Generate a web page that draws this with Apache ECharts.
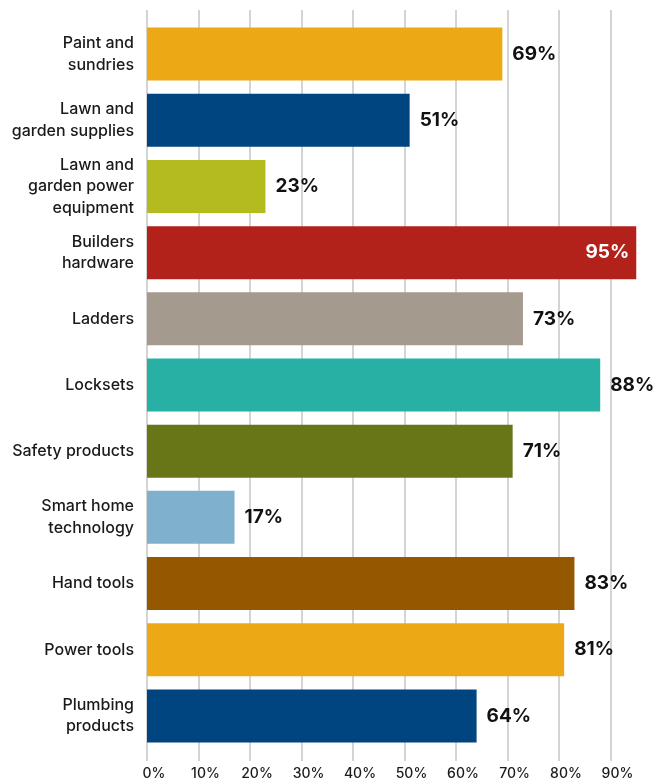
<!DOCTYPE html>
<html>
<head>
<meta charset="utf-8">
<style>
  html, body { margin: 0; padding: 0; background: #fff; }
  #chart { width: 657px; height: 784px; }
</style>
<script src="https://cdn.jsdelivr.net/npm/echarts@6/dist/echarts.min.js"></script>
</head>
<body>
<div id="chart"></div>
<script>
// categories, top to bottom
const categories = [
  'Paint and\nsundries',
  'Lawn and\ngarden supplies',
  'Lawn and\ngarden power\nequipment',
  'Builders\nhardware',
  'Ladders',
  'Locksets',
  'Safety products',
  'Smart home\ntechnology',
  'Hand tools',
  'Power tools',
  'Plumbing\nproducts'
]
const values = [69, 51, 23, 95, 73, 88, 71, 17, 83, 81, 64]
const barColors = [
  '#eda815', '#00457f', '#b3bb1f', '#b3221a', '#a59a8e', '#27b0a3',
  '#687618', '#7fb1cf', '#955700', '#eda815', '#00457f'
]
// bars whose label sits inside the bar
const insideLabels = [3]

const chart = echarts.init(document.getElementById('chart'))

const fontFamily = 'Inter, "Noto Sans", sans-serif'

const option = {
  animation: false,
  grid: [
    // grid for the x axis and vertical grid lines
    { left: 147, top: 10, bottom: 23, width: 515, outerBoundsMode: 'none', containLabel: false },
    // grid for the bars
    { left: 147, top: 21, bottom: 35, width: 515, outerBoundsMode: 'none', containLabel: false }
  ],
  xAxis: [
    {
      gridIndex: 0,
      type: 'value',
      min: 0,
      max: 100,
      interval: 10,
      axisLine: { show: false },
      axisTick: { show: false },
      splitLine: { show: true, lineStyle: { color: '#d4d4d4', width: 2 } },
      axisLabel: {
        color: '#1a1a1a',
        fontSize: 14,
        fontWeight: 500,
        fontFamily: fontFamily,
        margin: 6,
        padding: [0, 0, 0, 14],
        showMaxLabel: false,
        formatter: (v) => v + '%'
      }
    },
    {
      gridIndex: 1,
      type: 'value',
      min: 0,
      max: 100,
      show: false
    }
  ],
  yAxis: [
    {
      gridIndex: 0,
      type: 'value',
      show: false
    },
    {
      gridIndex: 1,
      type: 'category',
      inverse: true,
      data: categories,
      axisLine: { show: false },
      axisTick: { show: false },
      splitLine: { show: false },
      axisLabel: {
        color: '#1a1a1a',
        fontSize: 16,
        fontWeight: 500,
        lineHeight: 21.5,
        fontFamily: fontFamily,
        align: 'right',
        margin: 13
      }
    }
  ],
  series: [
    {
      type: 'bar',
      xAxisIndex: 1,
      yAxisIndex: 1,
      barWidth: 53,
      data: values.map((v, i) => {
        const inside = insideLabels.includes(i)
        return {
          value: v,
          itemStyle: { color: barColors[i] },
          label: {
            show: true,
            position: inside ? 'insideRight' : 'right',
            distance: inside ? 7 : 10,
            color: inside ? '#ffffff' : '#111111',
            fontSize: 19,
            fontWeight: 'bold',
            fontFamily: fontFamily,
            formatter: (p) => p.value + '%'
          }
        }
      })
    }
  ]
}

chart.setOption(option)
</script>
</body>
</html>
